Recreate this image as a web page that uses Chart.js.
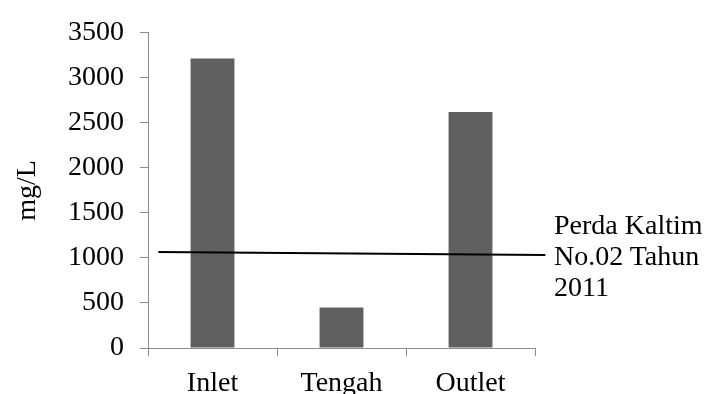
<html>
<head>
<title>mg/L chart</title>
<script src="https://cdn.jsdelivr.net/npm/chart.js@4.4.0/dist/chart.umd.min.js"></script>
<style type="text/css">
  body { margin: 0; background: #ffffff; }
  #wrap { position: relative; width: 710px; height: 394px; overflow: hidden; }
  #legend {
    position: absolute;
    left: 554px;
    top: 209px;
    font-family: "Liberation Serif", serif;
    font-size: 28px;
    line-height: 31px;
    color: #000000;
    white-space: nowrap;
  }
</style>
</head>
<body>

<div id="wrap">
  <canvas id="chart" width="710" height="394"></canvas>
  <div id="legend">Perda Kaltim<br>No.02 Tahun<br>2011</div>
</div>

<script>
// data
var categories = ['Inlet', 'Tengah', 'Outlet'];
var values = [3215, 450, 2620];
var limitX = [0.08, 3.08];      // line ends, in category slots (0..3)
var limitY = [1065, 1033];
var yTicks = [0, 500, 1000, 1500, 2000, 2500, 3000, 3500];

var serif = "'Liberation Serif', serif";

var ctx = document.getElementById('chart').getContext('2d');
var myChart = new Chart(ctx, {
  type: 'bar',
  data: {
    labels: categories,
    datasets: [{
      type: 'bar',
      xAxisID: 'x',
      data: values,
      backgroundColor: '#606060',
      borderWidth: 0,
      grouped: false,
      barPercentage: 0.34,
      categoryPercentage: 1.0,
      order: 2
    }, {
      type: 'line',
      xAxisID: 'x2',
      data: limitX.map(function (x, i) { return { x: x, y: limitY[i] }; }),
      borderColor: '#000000',
      borderWidth: 2,
      pointRadius: 0,
      fill: false,
      clip: false,
      order: 1
    }]
  },
  options: {
    responsive: false,
    animation: false,
    layout: { padding: { top: 25, right: 175, bottom: 0, left: 0 } },
    plugins: { legend: { display: false }, tooltip: { enabled: false } },
    scales: {
      x: {
        type: 'category',
        offset: true,
        grid: { offset: true, drawOnChartArea: false, drawTicks: true, tickLength: 8, color: '#8c8c8c' },
        border: { color: '#8c8c8c', width: 1 },
        ticks: { color: '#000000', font: { family: serif, size: 28 }, padding: 11, maxRotation: 0 },
        afterFit: function (scale) { scale.height = 46; }
      },
      x2: {
        type: 'linear',
        display: false,
        offset: false,
        grid: { offset: false },
        min: 0,
        max: 3
      },
      y: {
        min: 0,
        max: 3500,
        afterBuildTicks: function (scale) {
          scale.ticks = yTicks.map(function (v) { return { value: v }; });
        },
        grid: { drawOnChartArea: false, drawTicks: true, tickLength: 8, color: '#8c8c8c' },
        border: { color: '#8c8c8c', width: 1 },
        ticks: {
          color: '#000000',
          font: { family: serif, size: 28 },
          padding: 16,
          callback: function (v) { return String(v); }
        },
        title: {
          display: true,
          text: 'mg/L',
          color: '#000000',
          font: { family: serif, size: 28 },
          padding: { top: 11, bottom: 0 }
        },
        afterFit: function (scale) { scale.width = 148; }
      }
    }
  }
});
</script>

</body>
</html>
